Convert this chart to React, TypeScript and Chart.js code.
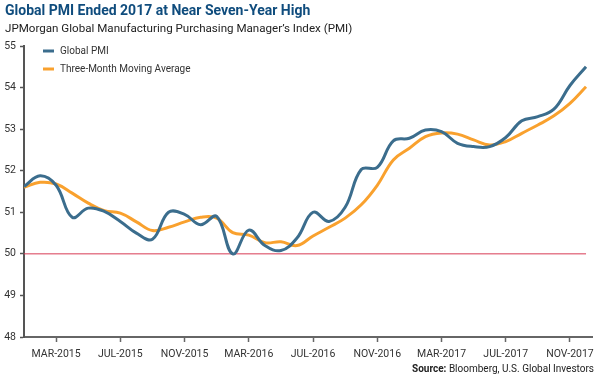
import React, { useEffect, useRef } from "react";
import { Chart, registerables } from "chart.js";

Chart.register(...registerables);

const months = [
  "JAN-2015", "FEB-2015", "MAR-2015", "APR-2015", "MAY-2015", "JUN-2015",
  "JUL-2015", "AUG-2015", "SEP-2015", "OCT-2015", "NOV-2015", "DEC-2015",
  "JAN-2016", "FEB-2016", "MAR-2016", "APR-2016", "MAY-2016", "JUN-2016",
  "JUL-2016", "AUG-2016", "SEP-2016", "OCT-2016", "NOV-2016", "DEC-2016",
  "JAN-2017", "FEB-2017", "MAR-2017", "APR-2017", "MAY-2017", "JUN-2017",
  "JUL-2017", "AUG-2017", "SEP-2017", "OCT-2017", "NOV-2017", "DEC-2017",
];

const globalPMI = [
  51.62, 51.88, 51.65, 50.88, 51.1, 51.02, 50.78, 50.5, 50.35, 51.0, 50.95, 50.7,
  50.9, 50.0, 50.57, 50.2, 50.08, 50.38, 51.0, 50.78, 51.12, 52.03, 52.08, 52.72,
  52.78, 52.98, 52.94, 52.66, 52.58, 52.58, 52.8, 53.2, 53.3, 53.48, 54.05, 54.5,
];

const movingAverage = [
  51.6, 51.72, 51.68, 51.46, 51.22, 51.04, 50.98, 50.77, 50.56, 50.64, 50.77, 50.88,
  50.86, 50.51, 50.45, 50.27, 50.29, 50.2, 50.43, 50.64, 50.86, 51.18, 51.65, 52.26,
  52.54, 52.82, 52.91, 52.88, 52.74, 52.62, 52.7, 52.9, 53.1, 53.32, 53.62, 54.02,
];

const tickLabels = ["MAR-2015", "JUL-2015", "NOV-2015", "MAR-2016", "JUL-2016", "NOV-2016", "MAR-2017", "JUL-2017", "NOV-2017"];
const threshold = 50;
const yMin = 48;
const yMax = 55;

const title = "Global PMI Ended 2017 at Near Seven-Year High";
const subtitle = "JPMorgan Global Manufacturing Purchasing Manager\u2019s Index (PMI)";
const sourceLabel = "Source:";
const sourceText = " Bloomberg, U.S. Global Investors";

const BLUE = "#3b6d8d";
const ORANGE = "#f9a12e";
const RED = "#d83a55";
const FONT = "Roboto, 'Open Sans', sans-serif";

const decorPlugin = {
  id: "decor",
  afterDraw(chart: any) {
    const ctx = chart.ctx;
    const area = chart.chartArea;
    ctx.save();
    // title
    ctx.textBaseline = "alphabetic";
    ctx.textAlign = "left";
    ctx.fillStyle = "#0f4c7d";
    ctx.font = `bold 14px ${FONT}`;
    ctx.fillText(title, 5, 15);
    ctx.fillStyle = "#222";
    ctx.font = `11.6px ${FONT}`;
    ctx.fillText(subtitle, 5, 32);
    // legend
    const items = [
      { label: chart.data.datasets[0].label, color: BLUE },
      { label: chart.data.datasets[1].label, color: ORANGE },
    ];
    ctx.font = `10px ${FONT}`;
    ctx.textBaseline = "middle";
    items.forEach((it, k) => {
      const y = area.top + 5 + k * 18;
      ctx.strokeStyle = it.color;
      ctx.lineWidth = 3;
      ctx.lineCap = "butt";
      ctx.beginPath();
      ctx.moveTo(area.left + 19, y);
      ctx.lineTo(area.left + 30, y);
      ctx.stroke();
      ctx.fillStyle = "#333";
      ctx.fillText(it.label, area.left + 36, y + 0.5);
    });
    // source
    ctx.textBaseline = "alphabetic";
    ctx.font = `10px ${FONT}`;
    const w2 = ctx.measureText(sourceText).width;
    ctx.font = `bold 10px ${FONT}`;
    const w1 = ctx.measureText(sourceLabel).width;
    const right = 594;
    ctx.fillStyle = "#222";
    ctx.fillText(sourceLabel, right - w1 - w2, 372);
    ctx.font = `10px ${FONT}`;
    ctx.fillText(sourceText, right - w2, 372);
    ctx.restore();
  },
};

export default function App() {
  const ref = useRef<HTMLCanvasElement | null>(null);
  useEffect(() => {
    if (!ref.current) return;
    const chart = new Chart(ref.current, {
      type: "line",
      data: {
        labels: months,
        datasets: [
          {
            label: "Global PMI",
            data: globalPMI.map((v, i) => ({ x: i, y: v })),
            borderColor: BLUE,
            borderWidth: 3,
            pointRadius: 0,
            tension: 0.4,
            fill: false,
          },
          {
            label: "Three-Month Moving Average",
            data: movingAverage.map((v, i) => ({ x: i, y: v })),
            borderColor: ORANGE,
            borderWidth: 3,
            pointRadius: 0,
            tension: 0.4,
            fill: false,
          },
          {
            label: "Threshold",
            data: [
              { x: 0, y: threshold },
              { x: months.length - 1, y: threshold },
            ],
            borderColor: RED,
            borderWidth: 1,
            pointRadius: 0,
            tension: 0,
            fill: false,
          },
        ],
      },
      options: {
        responsive: false,
        animation: false,
        devicePixelRatio: 1,
        layout: { padding: { top: 46, right: 6, left: 0, bottom: 0 } },
        plugins: {
          legend: { display: false },
          tooltip: { enabled: false },
          title: { display: false },
        },
        scales: {
          x: {
            type: "linear",
            min: 0,
            max: 35.4,
            afterFit(scale: any) {
              scale.height = 41;
            },
            afterBuildTicks(scale: any) {
              scale.ticks = tickLabels.map((lab) => ({ value: months.indexOf(lab) }));
            },
            ticks: {
              autoSkip: false,
              maxRotation: 0,
              minRotation: 0,
              padding: 6,
              color: "#333",
              font: { family: FONT, size: 10.5 },
              callback: (v: any) => months[v as number],
            },
            grid: {
              drawOnChartArea: false,
              drawTicks: true,
              tickLength: 5,
              tickColor: "#666",
              tickWidth: 1.5,
            },
            border: { display: true, color: "#666", width: 2 },
          },
          y: {
            min: yMin,
            max: yMax,
            afterFit(scale: any) {
              scale.width = 24;
            },
            ticks: {
              stepSize: 1,
              padding: 4,
              color: "#333",
              font: { family: FONT, size: 10.5 },
            },
            grid: {
              drawOnChartArea: false,
              drawTicks: true,
              tickLength: 4,
              tickColor: "#555",
              tickWidth: 1.5,
            },
            border: { display: true, color: "#555", width: 2 },
          },
        },
      },
      plugins: [decorPlugin],
    });
    return () => chart.destroy();
  }, []);
  return (
    <div style={{ position: "fixed", left: 0, top: 0, width: 600, height: 378, background: "#fff" }}>
      <canvas ref={ref} width={600} height={378} style={{ width: 600, height: 378, display: "block" }} />
    </div>
  );
}
